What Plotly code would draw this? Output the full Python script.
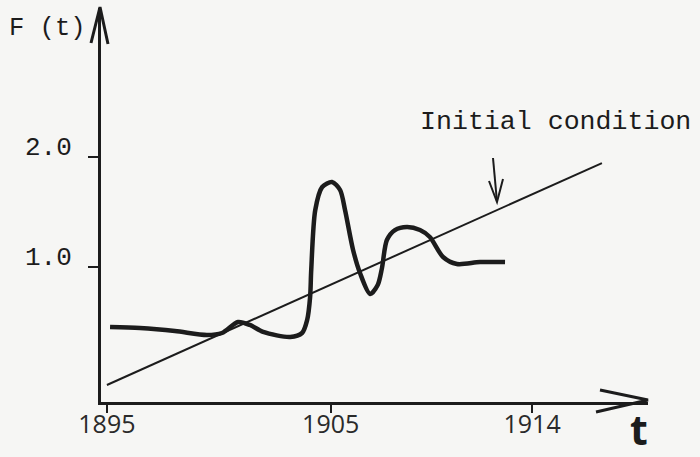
import plotly.graph_objects as go

# ---- data ----
curve_years = [1895.14, 1896.48, 1898.04, 1899.47, 1900.14, 1900.86, 1901.39, 1901.98,
               1903.19, 1903.72, 1903.95, 1904.08, 1904.13, 1904.31, 1904.62, 1905.06,
               1905.42, 1905.64, 1906.0, 1906.31, 1906.76, 1907.1, 1907.29, 1907.51,
               1907.87, 1908.41, 1908.99, 1909.43, 1910.02, 1910.64, 1911.67, 1912.79]
curve_values = [0.455, 0.445, 0.418, 0.382, 0.40, 0.50, 0.473, 0.41,
                0.364, 0.40, 0.52, 0.727, 0.973, 1.518, 1.727, 1.773,
                1.70, 1.518, 1.155, 0.945, 0.755, 0.836, 0.99, 1.245,
                1.336, 1.364, 1.336, 1.273, 1.091, 1.027, 1.045, 1.045]

initial_years = [1895.0, 1917.12]
initial_values = [-0.073, 1.945]

x_tick_vals = [1895, 1905, 1914]
x_tick_text = ["1895", "1905", "1914"]
y_tick_vals = [1.0, 2.0]
y_tick_text = ["1.0", "2.0"]

# ---- layout geometry (pixels) ----
W, H = 700, 457
L, R, T, B = 101, 52, 8, 55
PW, PH = W - L - R, H - T - B
X_RANGE = [1894.736, 1919.178]
Y_RANGE = [-0.2273, 3.3545]

def px(x):
    return (x - L) / PW

def py(y):
    return (H - B - y) / PH

INK = "#1c1c1c"
MONO = "Liberation Mono, Courier New, monospace"
SANS = "Open Sans, DejaVu Sans, sans-serif"

fig = go.Figure()
fig.add_trace(go.Scatter(x=initial_years, y=initial_values, mode="lines",
                         line=dict(color=INK, width=2), hoverinfo="skip", showlegend=False))
fig.add_trace(go.Scatter(x=curve_years, y=curve_values, mode="lines",
                         line=dict(color=INK, width=4.5, shape="spline", smoothing=0.8),
                         hoverinfo="skip", showlegend=False))

def seg_path(points):
    return "M " + " L ".join(f"{px(a):.5f} {py(b):.5f}" for a, b in points)

shapes = [
    # x-axis arrowhead
    dict(type="path", xref="paper", yref="paper",
         path=seg_path([(600, 390), (648, 400), (596, 412)]),
         line=dict(color=INK, width=3)),
    # y-axis arrowhead
    dict(type="path", xref="paper", yref="paper",
         path=seg_path([(91, 43), (100, 7), (108, 44)]),
         line=dict(color=INK, width=3)),
    # callout arrow
    dict(type="path", xref="paper", yref="paper",
         path=seg_path([(493, 158), (497, 202)]),
         line=dict(color=INK, width=2)),
    dict(type="path", xref="paper", yref="paper",
         path=seg_path([(489, 181), (497, 202), (503, 179)]),
         line=dict(color=INK, width=2)),
]

annotations = [
    dict(text="F (t)", xref="paper", yref="paper", x=px(7), y=py(28),
         xanchor="left", yanchor="middle", showarrow=False,
         font=dict(family=MONO, size=25.5, color=INK)),
    dict(text="Initial condition", xref="paper", yref="paper", x=px(418), y=py(122),
         xanchor="left", yanchor="middle", showarrow=False,
         font=dict(family=MONO, size=26.6, color=INK)),
    dict(text="<b>t</b>", xref="paper", yref="paper", x=px(639), y=py(459),
         xanchor="center", yanchor="bottom", showarrow=False,
         font=dict(family=SANS, size=41, color=INK)),
]

fig.update_layout(
    width=W, height=H,
    margin=dict(l=L, r=R, t=T, b=B, pad=0),
    paper_bgcolor="#f6f6f4", plot_bgcolor="#f6f6f4",
    showlegend=False,
    shapes=shapes, annotations=annotations,
    xaxis=dict(range=X_RANGE, showgrid=False, zeroline=False, automargin=False,
               showline=True, linecolor=INK, linewidth=3,
               tickmode="array", tickvals=x_tick_vals, ticktext=x_tick_text,
               ticks="outside", ticklen=8, tickwidth=2, tickcolor=INK,
               tickfont=dict(family=SANS, size=25, color="#2a2a2a"),
               ticklabelstandoff=-10),
    yaxis=dict(range=Y_RANGE, showgrid=False, zeroline=False, automargin=False,
               showline=True, linecolor=INK, linewidth=3,
               tickmode="array", tickvals=y_tick_vals, ticktext=y_tick_text,
               ticks="outside", ticklen=10, tickwidth=2, tickcolor=INK,
               tickfont=dict(family=MONO, size=26, color=INK),
               ticklabelstandoff=11, ticklabelshift=-11),
    xaxis2=dict(range=X_RANGE, overlaying="x", anchor="y", showgrid=False, zeroline=False,
                showline=False, tickmode="array", tickvals=x_tick_vals,
                ticks="inside", ticklen=7, tickwidth=2, tickcolor=INK,
                showticklabels=False, automargin=False),
    yaxis2=dict(range=Y_RANGE, overlaying="y", anchor="x", showgrid=False, zeroline=False,
                showline=False, tickmode="array", tickvals=y_tick_vals,
                ticks="inside", ticklen=7, tickwidth=2, tickcolor=INK,
                showticklabels=False, automargin=False),
)

fig.write_html("out.html", config={"displayModeBar": False},
               post_script="document.body.style.margin='0';document.body.style.background='#f6f6f4';")
